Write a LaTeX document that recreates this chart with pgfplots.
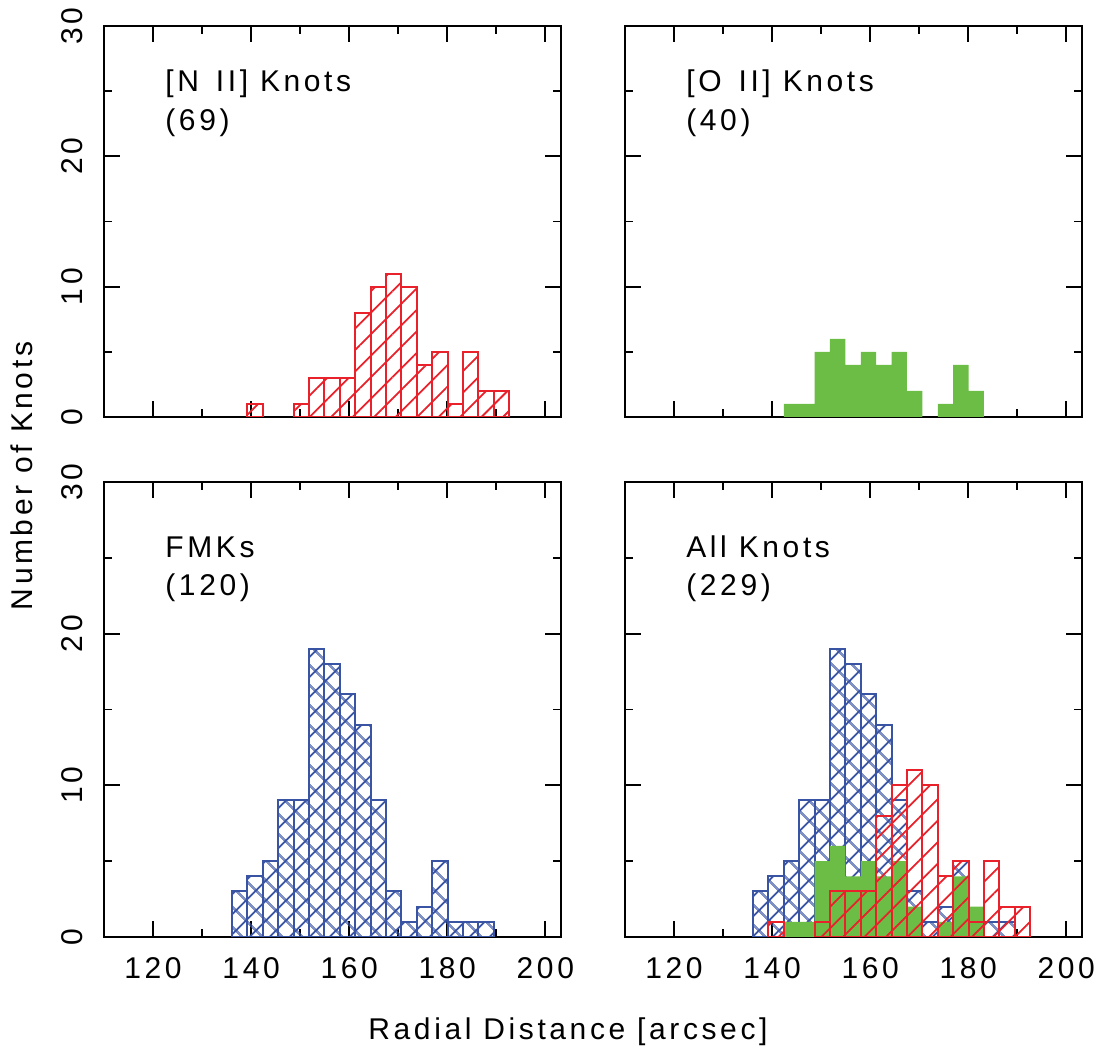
\documentclass[border=0pt]{standalone}
\usepackage{fontspec}
\setmainfont{Liberation Sans}[LetterSpace=12]
\usepackage{pgfplots}
\pgfplotsset{compat=1.18}
\usetikzlibrary{patterns.meta}

\definecolor{knotred}{RGB}{232,33,43}
\definecolor{knotblue}{RGB}{58,84,164}
\definecolor{knotgreen}{RGB}{108,189,69}

% bins are 3.14 arcsec wide, starting at 136.1; values are bin centres
\pgfplotsset{
  panel/.style={
    scale only axis, width=228.5pt,
    xmin=110, xmax=203.2, ymin=0, ymax=30,
    xtick={120,140,...,200}, minor x tick num=1,
    ytick={0,10,20,30}, minor y tick num=1,
    tick align=inside, xtick pos=both, ytick pos=both,
    major tick length=8pt, minor tick length=4pt,
    axis line style={line width=1.2pt},
    every tick/.style={black, line width=0.9pt},
    /pgf/number format/assume math mode=true,
    xticklabel style={yshift=-5pt},
    yticklabel style={rotate=90, anchor=south, inner ysep=10.5pt},
  },
  nii/.style={ybar, bar width=3.14, bar shift=0pt, draw=knotred, line width=1pt,
    pattern={Lines[angle=45,distance=7.6pt,line width=0.9pt]}, pattern color=knotred},
  fmk/.style={ybar, bar width=3.14, bar shift=0pt, draw=knotblue, line width=1pt,
    pattern={Hatch[angle=45,distance=7.4pt,line width=1pt]}, pattern color=knotblue},
  oii/.style={ybar, bar width=3.14, bar shift=0pt, draw=none, fill=knotgreen},
}

\begin{document}
\fontsize{15pt}{18pt}\selectfont
\begin{tikzpicture}
\path[use as bounding box] (0,0) rectangle (549.5pt,524.5pt);

% [N II]
\begin{axis}[panel, height=195.5pt, at={(52pt,316pt)}, anchor=south west, xticklabels={}]
\addplot[nii] coordinates {
  (140.81,1) (150.23,1) (153.37,3) (156.51,3) (159.65,3) (162.79,8) (165.93,10)
  (169.07,11) (172.21,10) (175.35,4) (178.49,5) (181.63,1) (184.77,5) (187.91,2) (191.05,2)};
\node[anchor=base west] at (axis cs:120.4,25) {[N\, II] Knots};
\node[anchor=base west, yshift=-19.5pt] at (axis cs:120.4,25) {(69)};
\end{axis}

% [O II]
\begin{axis}[panel, height=195.5pt, at={(312.5pt,316pt)}, anchor=south west, xticklabels={}, yticklabels={}]
\addplot[oii] coordinates {
  (143.95,1) (147.09,1) (150.23,5) (153.37,6) (156.51,4) (159.65,5) (162.79,4)
  (165.93,5) (169.07,2) (175.35,1) (178.49,4) (181.63,2)};
\node[anchor=base west] at (axis cs:120.4,25) {[O\, II] Knots};
\node[anchor=base west, yshift=-19.5pt] at (axis cs:120.4,25) {(40)};
\end{axis}

% FMKs
\begin{axis}[panel, height=227.5pt, at={(52pt,56pt)}, anchor=south west]
\addplot[fmk] coordinates {
  (137.67,3) (140.81,4) (143.95,5) (147.09,9) (150.23,9) (153.37,19) (156.51,18)
  (159.65,16) (162.79,14) (165.93,9) (169.07,3) (172.21,1) (175.35,2) (178.49,5)
  (181.63,1) (184.77,1) (187.91,1)};
\node[anchor=base west] at (axis cs:120.4,25) {FMKs};
\node[anchor=base west, yshift=-19pt] at (axis cs:120.4,25) {(120)};
\end{axis}

% all knots
\begin{axis}[panel, height=227.5pt, at={(312.5pt,56pt)}, anchor=south west, yticklabels={}]
\addplot[fmk] coordinates {
  (137.67,3) (140.81,4) (143.95,5) (147.09,9) (150.23,9) (153.37,19) (156.51,18)
  (159.65,16) (162.79,14) (165.93,9) (169.07,3) (172.21,1) (175.35,2) (178.49,5)
  (181.63,1) (184.77,1) (187.91,1)};
\addplot[oii] coordinates {
  (143.95,1) (147.09,1) (150.23,5) (153.37,6) (156.51,4) (159.65,5) (162.79,4)
  (165.93,5) (169.07,2) (175.35,1) (178.49,4) (181.63,2)};
\addplot[nii] coordinates {
  (140.81,1) (150.23,1) (153.37,3) (156.51,3) (159.65,3) (162.79,8) (165.93,10)
  (169.07,11) (172.21,10) (175.35,4) (178.49,5) (181.63,1) (184.77,5) (187.91,2) (191.05,2)};
\node[anchor=base west] at (axis cs:120.4,25) {All Knots};
\node[anchor=base west, yshift=-19pt] at (axis cs:120.4,25) {(229)};
\end{axis}

\node[rotate=90, anchor=base] at (16.5pt,286.5pt) {Number of Knots};
\node[anchor=base] at (284pt,4.5pt) {Radial Distance [arcsec]};
\end{tikzpicture}
\end{document}
